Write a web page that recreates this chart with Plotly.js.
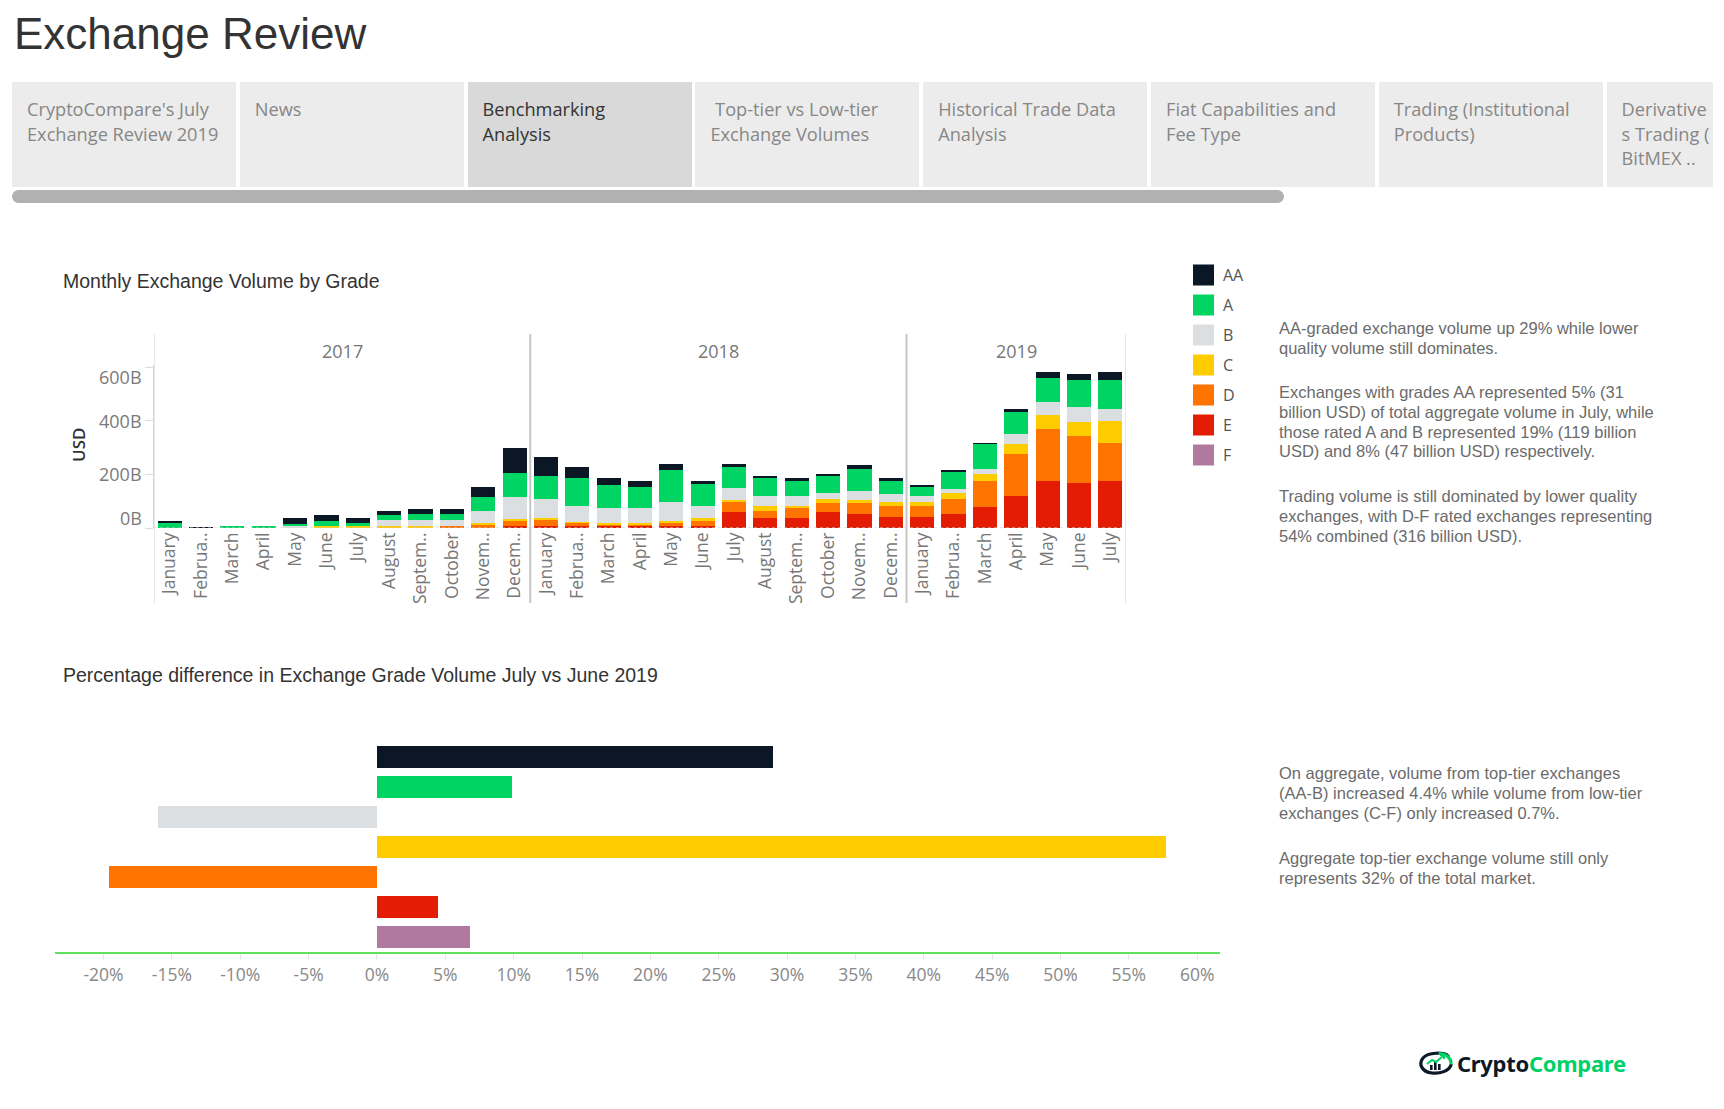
<!DOCTYPE html>
<html>
<head>
<meta charset="utf-8">
<script src="https://cdn.plot.ly/plotly-3.0.1.min.js"></script>
<style>
  body{margin:0;background:#fff;width:1724px;height:1109px;overflow:hidden;position:relative;font-family:"Liberation Sans",Arial,sans-serif;}
  #chart{position:absolute;left:0;top:0;width:1724px;height:1109px;z-index:1;}
  .ov{position:absolute;z-index:2;}
  #title{left:14px;top:9px;font-size:44px;color:#333;white-space:nowrap;}
  #tabs{left:0;top:82px;width:1713px;height:106px;overflow:hidden;}
  .tab{position:absolute;top:0;height:105px;width:224px;background:#ececec;box-sizing:border-box;padding:15px 0 0 15px;font-family:"Open Sans",sans-serif;font-size:18.2px;line-height:24.5px;color:#878787;white-space:nowrap;overflow:hidden;}
  .tab.sel{background:#d9d9d9;color:#333;}
  #scroll{left:12px;top:190px;width:1272px;height:13px;border-radius:7px;background:#b1b1b1;}
  .para{font-size:16.5px;line-height:19.8px;color:#6b6b6b;white-space:nowrap;}
  #logo{left:1418px;top:1049px;height:28px;display:flex;align-items:center;white-space:nowrap;}
  #logo .t1{font-family:"Noto Sans",sans-serif;font-weight:700;font-size:22px;color:#0d1826;letter-spacing:-0.3px;margin-left:3px;}
  #logo .t2{font-family:"Noto Sans",sans-serif;font-weight:700;font-size:22px;color:#00d166;letter-spacing:-0.3px;}
</style>
</head>
<body>
<div id="chart"></div>
<div id="title" class="ov">Exchange Review</div>
<div id="tabs" class="ov"></div>
<div id="scroll" class="ov"></div>

<div class="ov para" style="left:1279px;top:319px;">AA-graded exchange volume up 29% while lower<br>quality volume still dominates.</div>
<div class="ov para" style="left:1279px;top:383px;">Exchanges with grades AA represented 5% (31<br>billion USD) of total aggregate volume in July, while<br>those rated A and B represented 19% (119 billion<br>USD) and 8% (47 billion USD) respectively.</div>
<div class="ov para" style="left:1279px;top:487px;">Trading volume is still dominated by lower quality<br>exchanges, with D-F rated exchanges representing<br>54% combined (316 billion USD).</div>
<div class="ov para" style="left:1279px;top:764px;">On aggregate, volume from top-tier exchanges<br>(AA-B) increased 4.4% while volume from low-tier<br>exchanges (C-F) only increased 0.7%.</div>
<div class="ov para" style="left:1279px;top:849px;">Aggregate top-tier exchange volume still only<br>represents 32% of the total market.</div>

<div id="logo" class="ov">
  <svg width="36" height="26" viewBox="0 0 36 26">
    <path d="M30 6 C26 2 10 2 5 8 C0 14 4 22 14 23 C22 24 31 21 33 15" fill="none" stroke="#0d1826" stroke-width="3.2" stroke-linecap="round"/>
    <path d="M22 3.5 C28 4 33 8 33 13" fill="none" stroke="#00d166" stroke-width="3.2" stroke-linecap="round"/>
    <rect x="12" y="15" width="2.6" height="5" fill="#0d1826"/>
    <rect x="16" y="12" width="2.6" height="8" fill="#0d1826"/>
    <rect x="20" y="14" width="2.6" height="6" fill="#0d1826"/>
    <path d="M9 14 L14 10 L18 12 L25 6" fill="none" stroke="#00d166" stroke-width="2"/>
    <path d="M22 5 L26 5 L26 9" fill="none" stroke="#00d166" stroke-width="2"/>
  </svg>
  <span class="t1">Crypto</span><span class="t2">Compare</span>
</div>

<script>
// ---------------- DATA ----------------
const tabLabels = [
  "CryptoCompare's July<br>Exchange Review 2019",
  "News",
  "Benchmarking<br>Analysis",
  "&nbsp;Top-tier vs Low-tier<br>Exchange Volumes",
  "Historical Trade Data<br>Analysis",
  "Fiat Capabilities and<br>Fee Type",
  "Trading (Institutional<br>Products)",
  "Derivative<br>s Trading (<br>BitMEX .."
];
const selectedTab = 2;

const periods = [
  "2017-01","2017-02","2017-03","2017-04","2017-05","2017-06","2017-07","2017-08","2017-09","2017-10","2017-11","2017-12",
  "2018-01","2018-02","2018-03","2018-04","2018-05","2018-06","2018-07","2018-08","2018-09","2018-10","2018-11","2018-12",
  "2019-01","2019-02","2019-03","2019-04","2019-05","2019-06","2019-07"
];
const monthLabels = [
  "January","Februa..","March","April","May","June","July","August","Septem..","October","Novem..","Decem..",
  "January","Februa..","March","April","May","June","July","August","Septem..","October","Novem..","Decem..",
  "January","Februa..","March","April","May","June","July"
];
const yearLabels = ["2017","2018","2019"];

const grades = ["AA","A","B","C","D","E","F"];
const gradeColors = ["#0c1725","#00d563","#dcdfe2","#ffcc00","#ff7300","#e51c04","#b07aa0"];

// Monthly volume by grade (billion USD)
const volAA = [7,4,3,2.5,22,22,19,15,19,19,37,93, 71,41,26,22,22,11,11,11,11,4,15,11, 7,7,7,11,22,24,31];
const volA  = [20,1,6,6,10,19,11,19,22,22,52,90, 86,105,86,79,120,79,79,67,56,64,79,49, 34,67,90,82,90,98,108];
const volB  = [0,0,0,0,5,2,2,25,25,21,47,85, 71,62,56,56,71,45,45,34,37,22,34,30, 22,15,22,41,49,56,47];
const volC  = [0,0,0,0,1,6,6,6,6,3,7,5, 7,4,10,10,7,11,7,19,11,15,11,15, 15,22,26,37,52,52,80];
const volD  = [0,0,0,0,0,0,0,0,0,6,10,21, 25,11,4,4,14,19,37,26,34,34,41,41, 41,56,97,157,194,176,142];
const volE  = [0,0,0,0,0,0,0,0,0,0,0,6, 6,6,6,6,6,9,61,39,39,61,54,42, 42,51,77,118,175,168,175];
const volF  = [0,0,0,0,0,0,0,0,0,0,0,0, 0,0,0,0,0,0,0,0,0,0,0,0, 0,0,0,0,0,1.4,1.5];

const usdTicks = [0,200,400,600];
const usdTickLabels = ["0B","200B","400B","600B"];

// Percentage difference July vs June 2019
const pctChange = [29.0, 9.9, -16.0, 57.7, -19.6, 4.5, 6.8];
const pctTicks = [-20,-15,-10,-5,0,5,10,15,20,25,30,35,40,45,50,55,60];
const pctTickLabels = ["-20%","-15%","-10%","-5%","0%","5%","10%","15%","20%","25%","30%","35%","40%","45%","50%","55%","60%"];

// ---------------- HTML tabs ----------------
const tabsEl = document.getElementById('tabs');
tabLabels.forEach((t,i)=>{
  const d = document.createElement('div');
  d.className = 'tab' + (i===selectedTab ? ' sel' : '');
  d.style.left = (12 + i*227.8) + 'px';
  d.innerHTML = t;
  tabsEl.appendChild(d);
});

// ---------------- Plotly ----------------
const W = 1724, H = 1109;
const px = x => x / W;
const py = y => 1 - y / H;

const seriesBottomUp = [
  {name:"F", v:volF, c:gradeColors[6]},
  {name:"E", v:volE, c:gradeColors[5]},
  {name:"D", v:volD, c:gradeColors[4]},
  {name:"C", v:volC, c:gradeColors[3]},
  {name:"B", v:volB, c:gradeColors[2]},
  {name:"A", v:volA, c:gradeColors[1]},
  {name:"AA", v:volAA, c:gradeColors[0]}
];

const traces = seriesBottomUp.map(s => ({
  type:'bar', x:periods, y:s.v, name:s.name, marker:{color:s.c, line:{width:0}},
  xaxis:'x', yaxis:'y', showlegend:false, hoverinfo:'x+y+name'
}));

traces.push({
  type:'bar', orientation:'h', x:pctChange, y:grades, width:0.72,
  marker:{color:gradeColors, line:{width:0}},
  xaxis:'x2', yaxis:'y2', showlegend:false
});

const fontTab = '"Open Sans", sans-serif';
const fontArial = '"Liberation Sans", Arial, sans-serif';

const annotations = [];
const shapes = [];

// Chart titles
annotations.push({xref:'paper', yref:'paper', x:px(61), y:py(281), xanchor:'left', yanchor:'middle',
  text:'Monthly Exchange Volume by Grade', showarrow:false, font:{family:fontArial, size:19.5, color:'#333'}});
annotations.push({xref:'paper', yref:'paper', x:px(61), y:py(675), xanchor:'left', yanchor:'middle',
  text:'Percentage difference in Exchange Grade Volume July vs June 2019', showarrow:false, font:{family:fontArial, size:19.5, color:'#333'}});

// Y tick labels (Tableau-style clamped inside pane)
const yShifts = [10, 0, 0, -10];
usdTicks.forEach((v,i)=>{
  annotations.push({xref:'paper', yref:'y', x:px(144), y:v, yshift:yShifts[i], xanchor:'right', yanchor:'middle',
    text:usdTickLabels[i], showarrow:false, font:{family:fontTab, size:18, color:'#7a7a7a'}});
});
annotations.push({xref:'paper', yref:'paper', x:px(79), y:py(445), xanchor:'center', yanchor:'middle', textangle:-90,
  text:'USD', showarrow:false, font:{family:fontTab, size:17, color:'#333', weight:600}});

// Year headers
const yearCenters = [5.5, 17.5, 27];
yearLabels.forEach((t,i)=>{
  annotations.push({xref:'x', yref:'paper', x:yearCenters[i], y:py(351), xanchor:'center', yanchor:'middle',
    text:t, showarrow:false, font:{family:fontTab, size:18, color:'#777'}});
});
// Year separators
[-0.5, 11.5, 23.5, 30.5].forEach((xv,i)=>{
  shapes.push({type:'line', xref:'x', yref:'paper', x0:xv, x1:xv, y0:py(334), y1:py(603),
    line:{color: (i===1||i===2) ? '#c6c6c6' : '#d6d6d6', width: (i===1||i===2) ? 2 : 1.2}});
});
// dotted zero line
shapes.push({type:'line', xref:'x', yref:'y', x0:-0.5, x1:30.5, y0:0, y1:0, line:{color:'#cfcfcf', width:1, dash:'dot'}});

// Custom legend
grades.forEach((g,i)=>{
  const cy = 275 + i*30;
  shapes.push({type:'rect', xref:'paper', yref:'paper', x0:px(1193), x1:px(1214), y0:py(cy-10.5), y1:py(cy+10.5),
    fillcolor:gradeColors[i], line:{width:0}});
  annotations.push({xref:'paper', yref:'paper', x:px(1221), y:py(cy), xanchor:'left', yanchor:'middle',
    text:g, showarrow:false, font:{family:fontTab, size:16, color:'#555'}});
});

const layout = {
  width:W, height:H,
  margin:{l:0, r:0, t:0, b:0},
  paper_bgcolor:'rgba(0,0,0,0)', plot_bgcolor:'rgba(0,0,0,0)',
  barmode:'stack', bargap:0.23,
  font:{family:fontTab, color:'#777'},
  xaxis:{domain:[px(154), px(1126)], type:'category', range:[-0.5, 30.5], anchor:'y',
    tickmode:'array', tickvals:periods, ticktext:monthLabels, tickangle:-90,
    tickfont:{family:fontTab, size:17.5, color:'#777'},
    ticks:'', showgrid:false, zeroline:false, showline:false, fixedrange:true},
  yaxis:{domain:[py(528), py(365)], range:[0, 609], anchor:'x',
    tickmode:'array', tickvals:usdTicks, showticklabels:false, ticks:'outside', ticklen:8, tickcolor:'#dddddd',
    showgrid:false, zeroline:false, showline:true, linecolor:'#d6d6d6', linewidth:1, fixedrange:true},
  xaxis2:{domain:[px(55), px(1220)], range:[-23.55, 61.67], anchor:'y2',
    tickmode:'array', tickvals:pctTicks, ticktext:pctTickLabels,
    tickfont:{family:fontTab, size:17.5, color:'#888'},
    ticks:'outside', ticklen:6, tickcolor:'#e6e6e6',
    showgrid:false, zeroline:false, showline:true, linecolor:'#5fe35f', linewidth:2, fixedrange:true},
  yaxis2:{domain:[py(952), py(742)], type:'category', range:[6.5, -0.5], anchor:'x2',
    showticklabels:false, ticks:'', showgrid:false, zeroline:false, showline:false, fixedrange:true},
  annotations:annotations,
  shapes:shapes
};

Plotly.newPlot('chart', traces, layout, {staticPlot:true, displayModeBar:false});
</script>
</body>
</html>
